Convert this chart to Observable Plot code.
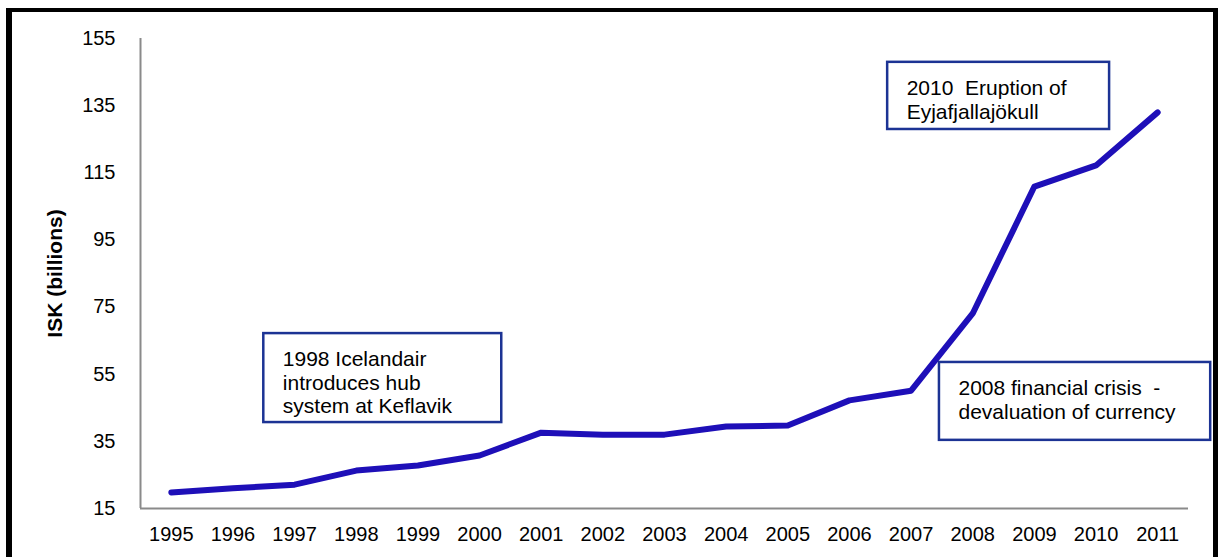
<!DOCTYPE html>
<html>
<head>
<meta charset="utf-8">
<script src="https://cdn.jsdelivr.net/npm/d3@7"></script>
<script src="https://cdn.jsdelivr.net/npm/@observablehq/plot@0.6"></script>
<style>
  html, body { margin: 0; padding: 0; background: #fff; }
  #wrap { position: relative; width: 1223px; height: 557px; overflow: hidden; background: #fff; }
  #frame { position: absolute; left: 6px; top: 8px; width: 1201px; height: 600px;
           border-left: 6px solid #000; border-top: 4px solid #000; border-right: 5px solid #000; }
  #chart { position: absolute; left: 0; top: 0; }
</style>
</head>
<body>
<div id="wrap"><div id="frame"></div><div id="chart"></div></div>
<script>
// Data
const years = [1995, 1996, 1997, 1998, 1999, 2000, 2001, 2002, 2003, 2004, 2005, 2006, 2007, 2008, 2009, 2010, 2011];
const values = [19.8, 21.0, 22.1, 26.3, 27.8, 30.8, 37.6, 37.0, 37.0, 39.4, 39.7, 47.2, 50.1, 73.1, 110.9, 117.2, 133.0];
const yTicks = [15, 35, 55, 75, 95, 115, 135, 155];
const yLabel = "ISK (billions)";

// Annotations (text and their extent in data units)
const annotationTexts = [
  "1998 Icelandair\nintroduces hub\nsystem at Keflavik",
  "2010  Eruption of\nEyjafjallajökull",
  "2008 financial crisis  -\ndevaluation of currency"
];
const annotationX1 = [1996.5, 2006.62, 2007.46];
const annotationX2 = [2000.36, 2010.22, 2011.86];
const annotationY1 = [40.6, 127.9, 35.3];
const annotationY2 = [67.1, 147.9, 58.5];

const data = years.map((year, i) => ({year, value: values[i]}));
const annotations = annotationTexts.map((text, i) => ({
  text, x1: annotationX1[i], x2: annotationX2[i], y1: annotationY1[i], y2: annotationY2[i]
}));

const font = "'Liberation Sans', Arial, sans-serif";

const chart = Plot.plot({
  width: 1223,
  height: 557,
  marginLeft: 140,
  marginRight: 35,
  marginTop: 38,
  marginBottom: 49,
  style: { fontFamily: font, fontSize: "20px", color: "#000", background: "transparent", overflow: "visible" },
  x: { domain: [1994.5, 2011.5], label: null },
  y: { domain: [15, 155], label: null },
  marks: [
    Plot.axisX({ ticks: years, tickFormat: d => String(d), tickSize: 0, tickPadding: 18, fontSize: 20, label: null }),
    Plot.axisY({ ticks: yTicks, tickSize: 0, tickPadding: 25, fontSize: 20, label: null }),
    Plot.ruleY([15], { stroke: "#8a8a8a", strokeWidth: 2 }),
    Plot.ruleX([1994.5], { stroke: "#8a8a8a", strokeWidth: 2 }),
    Plot.line(data, { x: "year", y: "value", stroke: "#1e0fb8", strokeWidth: 6,
                      strokeLinecap: "round", strokeLinejoin: "round" }),
    Plot.rect(annotations, { x1: "x1", x2: "x2", y1: "y1", y2: "y2", fill: "#fff",
                             stroke: "#1c3394", strokeWidth: 2.5 }),
    Plot.text(annotations, { x: "x1", y: "y2", text: "text", textAnchor: "start", lineAnchor: "top",
                             dx: 19, dy: 16, lineHeight: 1.12, fontSize: 21, fill: "#000" }),
    Plot.text([yLabel], { frameAnchor: "left", textAnchor: "middle", rotate: -90, dx: -85, fontSize: 21,
                          fontWeight: "bold", fill: "#000" })
  ]
});
document.getElementById("chart").appendChild(chart);
</script>
</body>
</html>
